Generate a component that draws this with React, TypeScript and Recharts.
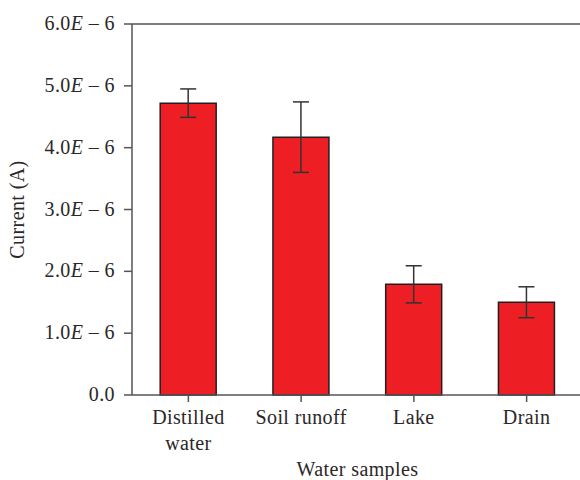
import { BarChart, Bar, XAxis, YAxis, ErrorBar, ReferenceLine } from 'recharts';

// values in units of 1E-6 A
const SAMPLES = ['Distilled\nwater', 'Soil runoff', 'Lake', 'Drain'];
const CURRENT = [4.72, 4.17, 1.79, 1.5];
const ERR = [0.23, 0.57, 0.3, 0.25];
const Y_TICKS = [0, 1, 2, 3, 4, 5, 6];

const data = SAMPLES.map((name, i) => ({ name, current: CURRENT[i], err: ERR[i] }));

const FONT = '"Liberation Serif", "Times New Roman", serif';
const INK = '#2b2728';
const AXIS = '#555';
const FS = 20;
const LS = 0.4;

function YTick({ x, y, payload }: any) {
  const v = payload.value as number;
  return (
    <text x={x} y={y + 6} textAnchor="end" fontFamily={FONT} fontSize={FS} letterSpacing={LS} fill={INK}>
      {v === 0 ? '0.0' : (
        <>
          {v.toFixed(1)}
          <tspan fontStyle="italic">E</tspan>
          {' – 6'}
        </>
      )}
    </text>
  );
}

function XTick({ x, y, payload }: any) {
  const lines = String(payload.value).split('\n');
  return (
    <text x={x} y={y + 20} textAnchor="middle" fontFamily={FONT} fontSize={FS} letterSpacing={LS} fill={INK}>
      {lines.map((l, i) => (
        <tspan key={i} x={x} dy={i === 0 ? 0 : 26}>{l}</tspan>
      ))}
    </text>
  );
}

export default function App() {
  return (
    <div style={{ position: 'absolute', left: 0, top: 0, background: '#fff' }}>
      <BarChart
        width={600}
        height={480}
        data={data}
        margin={{ top: 24, right: 17, left: 0, bottom: 0 }}
        barCategoryGap="25%"
      >
        <ReferenceLine y={6} stroke={AXIS} strokeWidth={1.5} />
        <XAxis
          dataKey="name"
          height={85}
          tick={<XTick />}
          tickSize={7}
          axisLine={{ stroke: AXIS, strokeWidth: 1.5 }}
          tickLine={{ stroke: AXIS, strokeWidth: 1.5 }}
          interval={0}
          label={({ viewBox }: any) => (
            <text
              x={viewBox.x + viewBox.width / 2}
              y={viewBox.y + 81}
              textAnchor="middle"
              fontFamily={FONT}
              fontSize={FS}
              letterSpacing={LS}
              fill={INK}
            >
              Water samples
            </text>
          )}
        />
        <YAxis
          width={132}
          domain={[0, 6]}
          ticks={Y_TICKS}
          tick={<YTick />}
          tickSize={8}
          tickMargin={9}
          axisLine={{ stroke: AXIS, strokeWidth: 1.5 }}
          tickLine={{ stroke: AXIS, strokeWidth: 1.5 }}
          label={({ viewBox }: any) => {
            const cx = viewBox.x + 24;
            const cy = viewBox.y + viewBox.height / 2;
            return (
              <text
                x={cx}
                y={cy}
                transform={`rotate(-90 ${cx} ${cy})`}
                textAnchor="middle"
                fontFamily={FONT}
                fontSize={FS}
                letterSpacing={LS}
                fill={INK}
              >
                Current (A)
              </text>
            );
          }}
        />
        <Bar dataKey="current" fill="#ED1F24" stroke="#231F20" strokeWidth={1.5} isAnimationActive={false}>
          <ErrorBar dataKey="err" width={8} stroke="#333" strokeWidth={1.5} />
        </Bar>
      </BarChart>
    </div>
  );
}
